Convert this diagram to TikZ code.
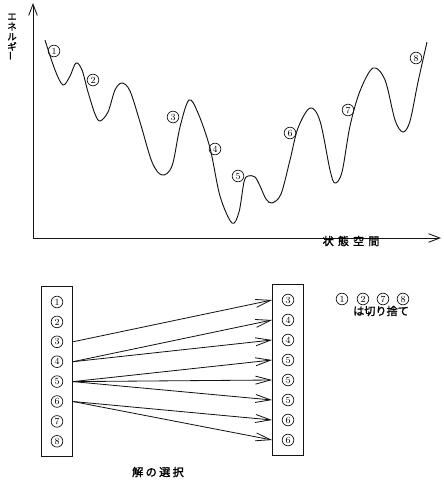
\documentclass[tikz,border=0pt]{standalone}
\usepackage{fontspec}
\newfontfamily\jpfont[FakeBold=1.6]{Noto Sans CJK JP}
\usetikzlibrary{
  arrows.meta,
  fit
}
\definecolor{inkblack}{RGB}{20, 20, 20}
\newcommand{\jsp}{\hspace{3.5pt}}
\tikzset{
  % Egri chiziq
  curveline/.style = {line width=0.8pt, draw=inkblack},
  % O'q chiziqlari
  axisline/.style  = {-{Straight Barb[length=3.4mm, width=2.6mm]}, line width=0.75pt, inkblack},
  % Doiradagi raqamlar
  numc/.style      = {circle, draw=inkblack, line width=0.6pt, minimum size=0.35cm,
                      inner sep=0pt, font=\fontsize{8}{8}\selectfont},
  % Qutilar va strelkalar
  boxline/.style   = {draw=inkblack, line width=0.7pt, inner sep=0.28cm},
  selarrow/.style  = {-{Straight Barb[length=4.5mm, width=2.4mm]}, line width=0.7pt, inkblack},
  % Etiketlar
  jplab/.style     = {font=\jpfont\fontsize{9.5}{10}\selectfont, inner sep=1pt},
}
\begin{document}
\begin{tikzpicture}[x=0.03cm, y=-0.03cm]
  \useasboundingbox (0,0) rectangle (443,483);
  % o'qlar
  \coordinate (O) at (33,238);
  \coordinate (ytop) at (33,3);
  \coordinate (xend) at (441,238);
  \draw[axisline] (O) -- (ytop);
  \draw[axisline] (O) -- (xend);
  \node[jplab, font=\jpfont\fontsize{8}{8.6}\selectfont, align=center] (elab) at (12,37)
    {エ\\ネ\\ル\\ギ\\\rotatebox{90}{ー}};
  \node[jplab] (slab) at (351,241) {状\jsp 態\jsp 空\jsp 間};
  % energiya egri chizig'i
  \draw[curveline] plot[smooth, tension=0.55] coordinates {
    (45,40) (55,70) (63,85) (70,76) (76,63) (82,70) (88,92) (95,114) (100,121)
    (108,112) (115,90) (122,83) (130,91) (140,122) (152,162) (162,175)
    (172,166) (180,127) (189,100) (198,113) (210,148) (220,196) (232,223)
    (239,212) (244,182) (248,176) (255,177) (260,186) (266,199) (272,203)
    (281,194) (290,160) (298,128) (310,108) (320,121) (330,170) (335,183)
    (342,172) (350,126) (360,91) (373,68) (385,80) (395,120) (403,132)
    (410,121) (418,82) (427,42)};
  \node[numc] (c1) at (54,51) {1};
  \node[numc] (c2) at (93,80) {2};
  \node[numc] (c3) at (173,117) {3};
  \node[numc] (c4) at (215,149) {4};
  \node[numc] (c5) at (238,176) {5};
  \node[numc] (c6) at (290,133) {6};
  \node[numc] (c7) at (348,110) {7};
  \node[numc] (c8) at (416,58) {8};
  % yechimlarni tanlash
  \foreach \n [count=\i] in {1,...,8}
    \node[numc] (L\i) at (57,{302+19.9*(\i-1)}) {\n};
  \foreach \n [count=\i] in {3,4,4,5,5,5,6,6}
    \node[numc] (R\i) at (288,{300+20*(\i-1)}) {\n};
  \node[boxline, fit=(L1)(L8)] (lbox) {};
  \node[boxline, fit=(R1)(R8)] (rbox) {};
  \foreach \a/\b in {3/1,4/2,4/3,5/4,5/5,5/6,6/7,6/8}
    \draw[selarrow] (lbox.east |- L\a) -- (rbox.west |- R\b);
  \node[jplab] (sel) at (158,472) {解\hspace{2pt}の\hspace{2pt}選\hspace{2pt}択};
  % tashlab yuboriladiganlar
  \node[numc] (d1) at (342,299) {1};
  \node[numc] (d2) at (363,299) {2};
  \node[numc] (d7) at (383,299) {7};
  \node[numc] (d8) at (403,299) {8};
  \node[jplab] (cut) at (381,311) {は切り捨て};
\end{tikzpicture}
\end{document}
